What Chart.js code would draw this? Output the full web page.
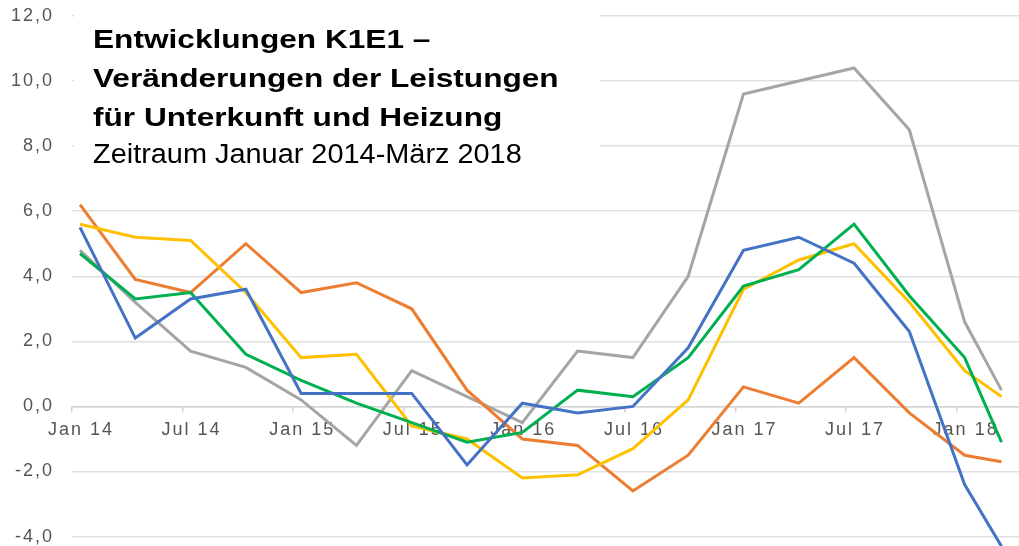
<!DOCTYPE html>
<html lang="de">
<head>
<meta charset="utf-8">
<title>Entwicklungen K1E1</title>
<script src="https://cdn.jsdelivr.net/npm/chart.js@4.4.1/dist/chart.umd.min.js"></script>
<style>
    html, body { margin: 0; padding: 0; background: #fff; }
    #wrap { position: relative; width: 1019px; height: 546px; }
</style>
</head>
<body>
<div id="wrap"><canvas id="chart"></canvas></div>
<script>
// Data (quarterly, Jan 2014 - Mär 2018)
const quarters = ['Jan 14', 'Apr 14', 'Jul 14', 'Okt 14', 'Jan 15', 'Apr 15', 'Jul 15', 'Okt 15',
    'Jan 16', 'Apr 16', 'Jul 16', 'Okt 16', 'Jan 17', 'Apr 17', 'Jul 17', 'Okt 17', 'Jan 18', 'Mär 18'];
// months since Jan 2014
const monthIndex = [0, 3, 6, 9, 12, 15, 18, 21, 24, 27, 30, 33, 36, 39, 42, 45, 48, 50];

const xTickLabels = ['Jan 14', 'Jul 14', 'Jan 15', 'Jul 15', 'Jan 16', 'Jul 16', 'Jan 17', 'Jul 17', 'Jan 18'];
const yTickValues = [-4, -2, 0, 2, 4, 6, 8, 10, 12];

const seriesBlue   = [5.5, 2.1, 3.3, 3.6, 0.4, 0.4, 0.4, -1.8, 0.1, -0.2, 0.0, 1.8, 4.8, 5.2, 4.4, 2.3, -2.4, -4.3];
const seriesGreen  = [4.7, 3.3, 3.5, 1.6, 0.8, 0.1, -0.5, -1.1, -0.8, 0.5, 0.3, 1.5, 3.7, 4.2, 5.6, 3.4, 1.5, -1.1];
const seriesYellow = [5.6, 5.2, 5.1, 3.5, 1.5, 1.6, -0.6, -1.0, -2.2, -2.1, -1.3, 0.2, 3.6, 4.5, 5.0, 3.2, 1.1, 0.3];
const seriesOrange = [6.2, 3.9, 3.5, 5.0, 3.5, 3.8, 3.0, 0.5, -1.0, -1.2, -2.6, -1.5, 0.6, 0.1, 1.5, -0.2, -1.5, -1.7];
const seriesGray   = [4.8, 3.2, 1.7, 1.2, 0.2, -1.2, 1.1, 0.3, -0.5, 1.7, 1.5, 4.0, 9.6, 10.0, 10.4, 8.5, 2.6, 0.5];

const titleLines = ['Entwicklungen K1E1 \u2013', 'Veränderungen der Leistungen', 'für Unterkunft und Heizung'];
const subtitle = 'Zeitraum Januar 2014-März 2018';

function toPoints(values) {
    return values.map((v, i) => ({ x: monthIndex[i], y: v }));
}

function lineDataset(label, values, color) {
    return {
        label: label,
        data: toPoints(values),
        borderColor: color,
        backgroundColor: color,
        borderWidth: 3,
        pointRadius: 0,
        tension: 0,
        fill: false
    };
}

// wider tick text, like the (stretched) original
const spacingPlugin = {
    id: 'spacing',
    beforeUpdate(chart) { chart.ctx.letterSpacing = '2px'; },
    beforeDraw(chart) { chart.ctx.letterSpacing = '2px'; }
};

// white title box over the upper left part of the plot
const titlePlugin = {
    id: 'titleBox',
    beforeDatasetsDraw(chart) {
        const ctx = chart.ctx;
        ctx.save();
        ctx.letterSpacing = '0px';
        ctx.fillStyle = '#ffffff';
        ctx.fillRect(74, 0, 526, 190);

        ctx.fillStyle = '#000000';
        ctx.textAlign = 'left';
        ctx.textBaseline = 'alphabetic';
        const baselines = [48, 87, 126];
        titleLines.forEach((line, i) => {
            ctx.save();
            ctx.translate(93, baselines[i]);
            ctx.scale(1.265, 1);
            ctx.font = 'bold 25px "Liberation Sans", Arial, sans-serif';
            ctx.fillText(line, 0, 0);
            ctx.restore();
        });
        ctx.save();
        ctx.translate(93, 163);
        ctx.scale(1.07, 1);
        ctx.font = '27px "Liberation Sans", Arial, sans-serif';
        ctx.fillText(subtitle, 0, 0);
        ctx.restore();
        ctx.restore();
    }
};

const tickFont = { family: '"Liberation Sans", Arial, sans-serif', size: 18, lineHeight: 1 };

const ctx = document.getElementById('chart').getContext('2d');
new Chart(ctx, {
    type: 'line',
    data: {
        datasets: [
            lineDataset('Reihe 1', seriesBlue, '#4472C4'),
            lineDataset('Reihe 2', seriesGreen, '#00B050'),
            lineDataset('Reihe 3', seriesYellow, '#FFC000'),
            lineDataset('Reihe 4', seriesOrange, '#ED7D31'),
            lineDataset('Reihe 5', seriesGray, '#A5A5A5')
        ]
    },
    options: {
        responsive: true,
        maintainAspectRatio: false,
        animation: false,
        layout: { padding: 0 },
        plugins: {
            legend: { display: false },
            title: { display: false },
            tooltip: { enabled: false }
        },
        scales: {
            x: {
                type: 'linear',
                position: { y: 0 },
                min: -0.434,
                max: 50.95,
                afterBuildTicks: (scale) => {
                    scale.ticks = xTickLabels.map((_, i) => ({ value: i * 6 - 0.434 }));
                },
                afterFit: (scale) => {
                    scale.paddingLeft = 0;
                    scale.paddingRight = 0;
                },
                grid: {
                    drawOnChartArea: false,
                    drawTicks: true,
                    tickLength: 5,
                    color: '#d4d4d4',
                    lineWidth: 1.5
                },
                border: { display: true, color: '#d4d4d4', width: 1.5 },
                ticks: {
                    color: '#555555',
                    font: tickFont,
                    padding: 10,
                    labelOffset: 9,
                    maxRotation: 0,
                    autoSkip: false,
                    callback: (value, index) => xTickLabels[index]
                }
            },
            y: {
                type: 'linear',
                min: -4.29,
                max: 12.49,
                afterBuildTicks: (scale) => {
                    scale.ticks = yTickValues.map(v => ({ value: v }));
                },
                afterFit: (scale) => {
                    scale.width = 72;
                    scale.paddingTop = 0;
                    scale.paddingBottom = 0;
                },
                grid: {
                    color: '#e0e0e0',
                    lineWidth: 1.5,
                    drawTicks: false
                },
                border: { display: false },
                ticks: {
                    color: '#555555',
                    font: tickFont,
                    padding: 18,
                    callback: (value) => value.toFixed(1).replace('.', ',')
                }
            }
        }
    },
    plugins: [spacingPlugin, titlePlugin]
});
</script>
</body>
</html>
